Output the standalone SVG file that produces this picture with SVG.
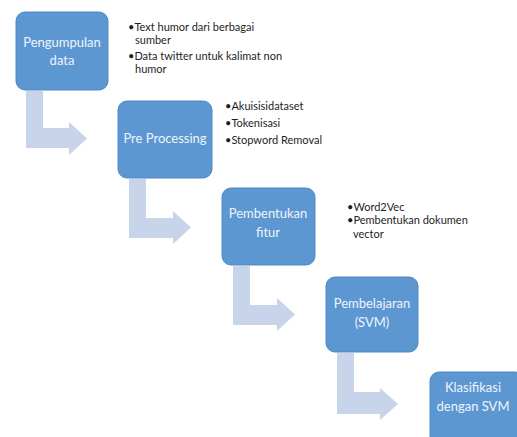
<svg xmlns="http://www.w3.org/2000/svg" width="517" height="437" viewBox="0 0 517 437">
<defs>
<style>
.box{fill:#5c97d2;stroke:#4f88c4;stroke-width:1}
.lbl{font-family:Lato,"Liberation Sans",sans-serif;font-size:13px;fill:#eef4fb;text-anchor:middle}
.bul{font-family:Lato,"Liberation Sans",sans-serif;font-size:11px;fill:#1e1e1e}
.arr{fill:#c7d4ea}
</style>
</defs>
<rect width="517" height="437" fill="#ffffff"/>
<g id="connectors">
<path class="arr" d="M26,91 H43 V128 H69 V122 L87,138.5 L69,155 V148 H26 Z"/>
<path class="arr" d="M129,179 H146 V218 H173 V211 L191,227.5 L173,244 V238 H129 Z"/>
<path class="arr" d="M233,266 H250 V305 H277 V298 L295,314.5 L277,331 V325 H233 Z"/>
<path class="arr" d="M337,353 H354 V392 H380 V388 L398,404 L380,420 V414 H337 Z"/>
</g>
<g id="node1">
<rect class="box" x="16" y="12" width="92" height="78" rx="9"/>
<text class="lbl" x="62" y="47">Pengumpulan</text>
<text class="lbl" x="62" y="65">data</text>
</g>
<g id="node1-notes">
<text class="bul" x="128" y="31">•Text humor dari berbagai</text>
<text class="bul" x="135" y="44">sumber</text>
<text class="bul" x="128" y="60">•Data twitter untuk kalimat non</text>
<text class="bul" x="135" y="73">humor</text>
</g>
<g id="node2">
<rect class="box" x="118" y="101" width="94" height="77" rx="9"/>
<text class="lbl" x="165" y="143">Pre Processing</text>
</g>
<g id="node2-notes">
<text class="bul" x="225" y="110">•Akuisisidataset</text>
<text class="bul" x="225" y="127">•Tokenisasi</text>
<text class="bul" x="225" y="144">•Stopword Removal</text>
</g>
<g id="node3">
<rect class="box" x="222" y="188" width="93" height="77" rx="9"/>
<text class="lbl" x="268" y="218">Pembentukan</text>
<text class="lbl" x="268" y="237">fitur</text>
</g>
<g id="node3-notes">
<text class="bul" x="347" y="211">•Word2Vec</text>
<text class="bul" x="347" y="224">•Pembentukan dokumen</text>
<text class="bul" x="353" y="238">vector</text>
</g>
<g id="node4">
<rect class="box" x="326" y="277" width="92" height="75" rx="9"/>
<text class="lbl" x="372" y="308">Pembelajaran</text>
<text class="lbl" x="372" y="327">(SVM)</text>
</g>
<g id="node5">
<rect class="box" x="430" y="372" width="94" height="80" rx="9"/>
<text class="lbl" x="473" y="392">Klasifikasi</text>
<text class="lbl" x="473" y="411">dengan SVM</text>
</g>
</svg>
